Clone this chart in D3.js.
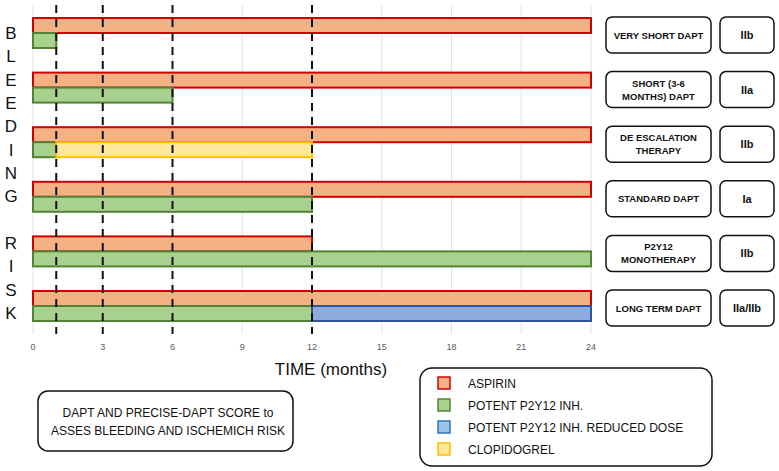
<!DOCTYPE html>
<html>
<head>
<meta charset="utf-8">
<script src="https://cdn.jsdelivr.net/npm/d3@7"></script>
<style>
  body { margin: 0; background: #fff; }
  svg { font-family: "Liberation Sans", Arial, sans-serif; }
</style>
</head>
<body>
<div id="chart"></div>
<script>
// rows, top to bottom
const regimens = [["VERY SHORT DAPT"], ["SHORT (3-6", "MONTHS) DAPT"], ["DE ESCALATION", "THERAPY"],
  ["STANDARD DAPT"], ["P2Y12", "MONOTHERAPY"], ["LONG TERM DAPT"]];
const classes = ["IIb", "IIa", "IIb", "Ia", "IIb", "IIa/IIb"];
// [start, end] in months, null = none
const aspirin = [[0, 24], [0, 24], [0, 24], [0, 24], [0, 12], [0, 24]];
const potent = [[0, 1], [0, 6], [0, 1], [0, 12], [0, 24], [0, 12]];
const reducedDose = [null, null, null, null, null, [12, 24]];
const clopidogrel = [null, null, [1, 12], null, null, null];
const cutoffs = [1, 3, 6, 12];
const ticks = [0, 3, 6, 9, 12, 15, 18, 21, 24];
const sideLetters = "BLEEDING RISK".split("");
const legendLabels = ["ASPIRIN", "POTENT P2Y12 INH.", "POTENT P2Y12 INH. REDUCED DOSE", "CLOPIDOGREL"];

const W = 779, H = 471;
const svg = d3.select("#chart").append("svg").attr("width", W).attr("height", H);

const x = d3.scaleLinear().domain([0, 24]).range([33, 591]);
const y = d3.scalePoint().domain(d3.range(6)).range([33, 306]); // boundary between the two bars
const barH = 15;
const gridTop = 5, gridBottom = 334;

// grid
svg.append("g").selectAll("line").data(ticks).enter().append("line")
  .attr("x1", d => x(d)).attr("x2", d => x(d))
  .attr("y1", gridTop).attr("y2", gridBottom)
  .attr("stroke", "#e3e3e3").attr("stroke-width", 1);

// tick labels
svg.append("g").selectAll("text").data(ticks).enter().append("text")
  .attr("x", d => x(d)).attr("y", 350)
  .attr("text-anchor", "middle")
  .attr("font-size", 9).attr("fill", "#595959")
  .text(d => d);

svg.append("text").attr("x", 331).attr("y", 375)
  .attr("text-anchor", "middle").attr("font-size", 17).attr("fill", "#111")
  .text("TIME (months)");

// bars
function drawBars(arr, lane, fill, stroke) {
  const data = arr.map((d, i) => ({ d, i })).filter(o => o.d);
  svg.append("g").selectAll("rect").data(data).enter().append("rect")
    .attr("x", o => x(o.d[0]))
    .attr("width", o => x(o.d[1]) - x(o.d[0]))
    .attr("y", o => lane === 0 ? y(o.i) - barH : y(o.i))
    .attr("height", barH)
    .attr("fill", fill).attr("stroke", stroke).attr("stroke-width", 2);
}
drawBars(aspirin, 0, "#f4b183", "#d00000");
drawBars(potent, 1, "#a9d18e", "#548235");
drawBars(reducedDose, 1, "#8faadc", "#2f5597");
drawBars(clopidogrel, 1, "#ffe699", "#ffc000");

// dashed cutoffs
svg.append("g").selectAll("line").data(cutoffs).enter().append("line")
  .attr("x1", d => x(d)).attr("x2", d => x(d))
  .attr("y1", gridTop).attr("y2", gridBottom)
  .attr("stroke", "#111").attr("stroke-width", 2)
  .attr("stroke-dasharray", "8,6");

// side letters
svg.append("g").selectAll("text").data(sideLetters).enter().append("text")
  .attr("x", 11).attr("y", (d, i) => 33 + i * 23.33 + 6)
  .attr("text-anchor", "middle").attr("font-size", 17).attr("fill", "#111")
  .text(d => d);

// right boxes
const boxes = svg.append("g").selectAll("g").data(regimens).enter().append("g")
  .attr("transform", (d, i) => `translate(0,${y(i) + 2})`);
boxes.append("rect").attr("x", 606).attr("y", -18).attr("width", 105).attr("height", 36)
  .attr("rx", 6).attr("fill", "#fff").attr("stroke", "#111").attr("stroke-width", 1.5);
boxes.append("rect").attr("x", 720).attr("y", -18).attr("width", 54).attr("height", 36)
  .attr("rx", 6).attr("fill", "#fff").attr("stroke", "#111").attr("stroke-width", 1.5);
boxes.each(function(lines, i) {
  const g = d3.select(this);
  lines.forEach((t, k) => {
    g.append("text").attr("x", 658.5)
      .attr("y", (k - (lines.length - 1) / 2) * 13 + 3.5)
      .attr("text-anchor", "middle").attr("font-size", 9.5).attr("font-weight", "bold")
      .attr("fill", "#111").text(t);
  });
  g.append("text").attr("x", 747).attr("y", 4)
    .attr("text-anchor", "middle").attr("font-size", 11).attr("font-weight", "bold")
    .attr("fill", "#111").text(classes[i]);
});

// note box
svg.append("rect").attr("x", 38).attr("y", 391).attr("width", 255).attr("height", 60)
  .attr("rx", 10).attr("fill", "#fff").attr("stroke", "#111").attr("stroke-width", 1.5);
["DAPT AND PRECISE-DAPT SCORE to", "ASSES BLEEDING AND ISCHEMICH RISK"].forEach((t, k) => {
  svg.append("text").attr("x", 168).attr("y", 417 + k * 18)
    .attr("text-anchor", "middle").attr("font-size", 12).attr("fill", "#111").text(t);
});

// legend
const legendFill = ["#f4b183", "#a9d18e", "#9dc3e6", "#ffe699"];
const legendStroke = ["#d00000", "#548235", "#2e75b6", "#ffc000"];
svg.append("rect").attr("x", 420).attr("y", 368).attr("width", 292).attr("height", 98)
  .attr("rx", 12).attr("fill", "#fff").attr("stroke", "#111").attr("stroke-width", 1.5);
const leg = svg.append("g").selectAll("g").data(legendLabels).enter().append("g")
  .attr("transform", (d, i) => `translate(0,${383 + i * 22})`);
leg.append("rect").attr("x", 438).attr("y", -6).attr("width", 12).attr("height", 12)
  .attr("fill", (d, i) => legendFill[i]).attr("stroke", (d, i) => legendStroke[i]).attr("stroke-width", 1.5);
leg.append("text").attr("x", 468).attr("y", 5).attr("font-size", 12).attr("fill", "#111").text(d => d);
</script>
</body>
</html>
